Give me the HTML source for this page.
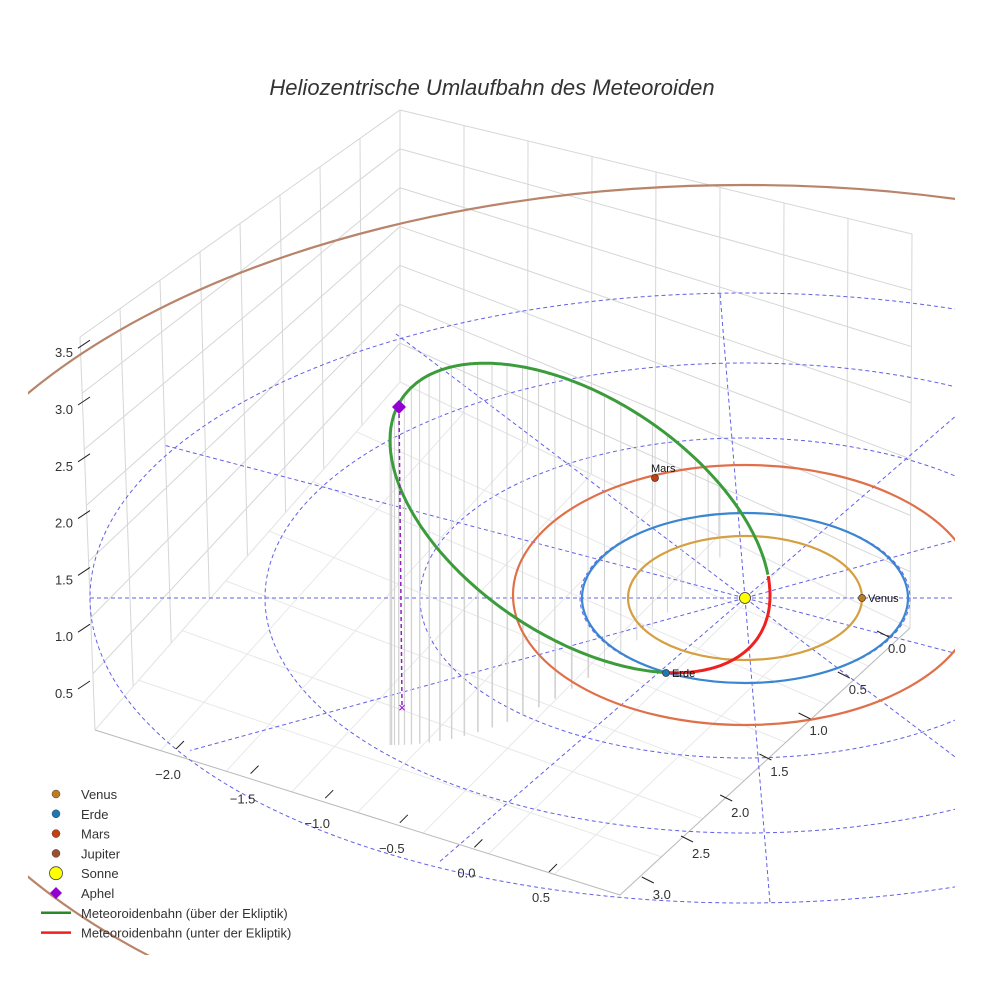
<!DOCTYPE html>
<html><head><meta charset="utf-8"><style>
html,body{margin:0;background:#fff;overflow:hidden;width:984px;height:984px;}
svg{display:block;font-family:"Liberation Sans",sans-serif;}
</style></head><body>
<svg id="c" width="984" height="984" viewBox="0 0 984 984">
<defs><clipPath id="sc"><rect x="28" y="100" width="927" height="855"/></clipPath></defs>
<rect width="984" height="984" fill="#fff"/>
<text x="492" y="95" text-anchor="middle" font-size="22" font-style="italic" fill="#333">Heliozentrische Umlaufbahn des Meteoroiden</text>
<g clip-path="url(#sc)"><g id="grid"></g><g id="ecl"></g><g id="drops"></g><g id="orbits"></g><g id="marks"></g></g><g id="axes"></g><g id="legend"></g>
</svg>
<script>
const NS="http://www.w3.org/2000/svg";
function mk(p,t,a){const e=document.createElementNS(NS,t);for(const k in a)e.setAttribute(k,a[k]);document.getElementById(p).appendChild(e);return e;}
// data
const zTicks=["0.5","1.0","1.5","2.0","2.5","3.0","3.5"];
const xTicks=["−2.0","−1.5","−1.0","−0.5","0.0","0.5"];
const yTicks=["0.0","0.5","1.0","1.5","2.0","2.5","3.0"];
const planetNames=["Venus","Erde","Mars","Jupiter"];
const planetColors=["#d4a040","#3a86d0","#e0704a","#b8846a"];
const sun=[745,598];
// box grid
const T=[400,110],L=[80,337],R=[912,234],B=[400,382],BL=[95,730],BR=[910,628],F=[620,895];
function lerp(a,b,t){return [a[0]+(b[0]-a[0])*t,a[1]+(b[1]-a[1])*t];}
function ln(g,a,b,st,w,extra){const e=mk(g,"line",Object.assign({x1:a[0],y1:a[1],x2:b[0],y2:b[1],stroke:st,"stroke-width":w},extra||{}));return e;}
for(let i=0;i<=8;i++){const t=i/8;ln("grid",lerp(T,L,t),lerp(B,BL,t),"#d6d6d6",1);ln("grid",lerp(T,R,t),lerp(B,BR,t),"#d6d6d6",1);}
for(let i=0;i<=7;i++){const t=i/7;const a=lerp(T,B,t);ln("grid",a,lerp(L,BL,t),"#d6d6d6",1);ln("grid",a,lerp(R,BR,t),"#d6d6d6",1);}
for(let i=0;i<=7;i++){const t=i/7;ln("grid",lerp(B,BL,t),lerp(BR,F,t),"#e8e8e8",1);}
for(let i=0;i<=8;i++){const t=i/8;ln("grid",lerp(B,BR,t),lerp(BL,F,t),"#e8e8e8",1);}
ln("grid",BL,F,"#bbb",1);ln("grid",F,BR,"#bbb",1);
// ecliptic dashed rings & spokes
const ringR=[[165,85],[325,160],[480,235],[655,305]];
ringR.forEach(r=>{const e=mk("ecl","ellipse",{cx:sun[0],cy:sun[1],rx:r[0],ry:r[1],fill:"none",stroke:"#6060e8","stroke-width":1,"stroke-dasharray":"4,3"});});
for(let k=0;k<12;k++){const th=k*Math.PI/6;const p=[sun[0]+655*Math.cos(th)+(Math.sin(th)*25),sun[1]+305*Math.sin(th)];const e=ln("ecl",sun,p,"#6060e8",1,{"stroke-dasharray":"4,3"});}
// meteoroid orbit as projected ellipse
const met={cx:580,cy:518,A:190,C:77.5,D:134};
const splitDeg=[-8,63.4];
function mp(tdeg){const t=tdeg*Math.PI/180;return [met.cx+met.A*Math.cos(t),met.cy+met.C*Math.cos(t)+met.D*Math.sin(t)];}
function arc(t0,t1){let d="";for(let t=t0;t<=t1+0.01;t+=1){const q=mp(t);d+=(d?" L":"M")+q[0].toFixed(1)+","+q[1].toFixed(1);}return d;}
// drop lines to floor projection
for(let t=splitDeg[1]+4;t<=352;t+=5){const q=mp(t);if(q[0]>720)continue;const r=(q[0]-392)/330;const fy=745-r*r*190;if(fy>q[1]+8){const e=ln("drops",q,[q[0],fy],"#d2d2d2",1);}}
// planet orbits
const orbitGeo=[[117,62,0],[163,85,0],[232,130,-3],[850,450,37]];
planetNames.forEach((n,i)=>{const g=orbitGeo[i];const e=mk("orbits","ellipse",{cx:sun[0],cy:sun[1]+g[2],rx:g[0],ry:g[1],fill:"none",stroke:planetColors[i],"stroke-width":2.2});});
let e=mk("orbits","path",{d:arc(splitDeg[1],360+splitDeg[0]),fill:"none",stroke:"#3c9c3c","stroke-width":3});
e=mk("orbits","path",{d:arc(splitDeg[0],splitDeg[1]),fill:"none",stroke:"#ee2020","stroke-width":3});
// aphel
e=ln("marks",[399,407],[402,705],"#9020c0",1.5,{"stroke-dasharray":"4,3"});
e=mk("marks","path",{d:"M399,400 L406,407 L399,414 L392,407Z",fill:"#9400d3"});
e=mk("marks","text",{x:402,y:712,"text-anchor":"middle","font-size":13,fill:"#9400d3"});e.textContent="×";
// planets
const pm=[[862,598,"#c07a20","Venus"],[666,673,"#1f77b4","Erde"],[655,478,"#c44010","Mars"]];
pm.forEach(p=>{let c=mk("marks","circle",{cx:p[0],cy:p[1],r:3.5,fill:p[2],stroke:"#333","stroke-width":0.7});
let t=mk("marks","text",{x:p[3]=="Mars"?p[0]-4:p[0]+6,y:p[3]=="Mars"?p[1]-6:p[1]+4,"font-size":11,fill:"#111"});t.textContent=p[3];});
e=mk("marks","circle",{cx:745,cy:598,r:5.5,fill:"#ffff00",stroke:"#333","stroke-width":0.8});
// axes ticks
zTicks.forEach((t,i)=>{const y=693-i*56.8;let l=ln("axes",[78,y-4],[90,y-12],"#222",1);let x=mk("axes","text",{x:64,y:y+5,"text-anchor":"middle","font-size":13,fill:"#333"});x.textContent=t;});
xTicks.forEach((t,i)=>{const x0=168+i*74.6,y0=779+i*24.6;let l=ln("axes",[x0+8,y0-30],[x0+16,y0-38],"#222",1);let x=mk("axes","text",{x:x0,y:y0,"text-anchor":"middle","font-size":13,fill:"#333"});x.textContent=t;});
yTicks.forEach((t,i)=>{const x0=897-i*39.2,y0=653+i*41;let l=ln("axes",[x0-20,y0-22],[x0-8,y0-16],"#222",1);let x=mk("axes","text",{x:x0,y:y0,"text-anchor":"middle","font-size":13,fill:"#333"});x.textContent=t;});
// legend
const legItems=[["Venus","c","#c07a20"],["Erde","c","#1f77b4"],["Mars","c","#c44010"],["Jupiter","c","#9a5030"],["Sonne","s","#ffff00"],["Aphel","d","#9400d3"],["Meteoroidenbahn (über der Ekliptik)","l","#2a8a2a"],["Meteoroidenbahn (unter der Ekliptik)","l","#ee2020"]];
legItems.forEach((it,i)=>{const y=794+i*19.8;let m;
if(it[1]=="c")m=mk("legend","circle",{cx:56,cy:y,r:4,fill:it[2],stroke:"#444","stroke-width":0.5});
else if(it[1]=="s")m=mk("legend","circle",{cx:56,cy:y,r:6.5,fill:it[2],stroke:"#444","stroke-width":0.8});
else if(it[1]=="d")m=mk("legend","path",{d:`M56,${y-6} L62,${y} L56,${y+6} L50,${y}Z`,fill:it[2]});
else m=ln("legend",[41,y],[71,y],it[2],2.5);

const t=mk("legend","text",{x:81,y:y+5,"font-size":13,fill:"#333"});t.textContent=it[0];});
</script>
</body></html>
